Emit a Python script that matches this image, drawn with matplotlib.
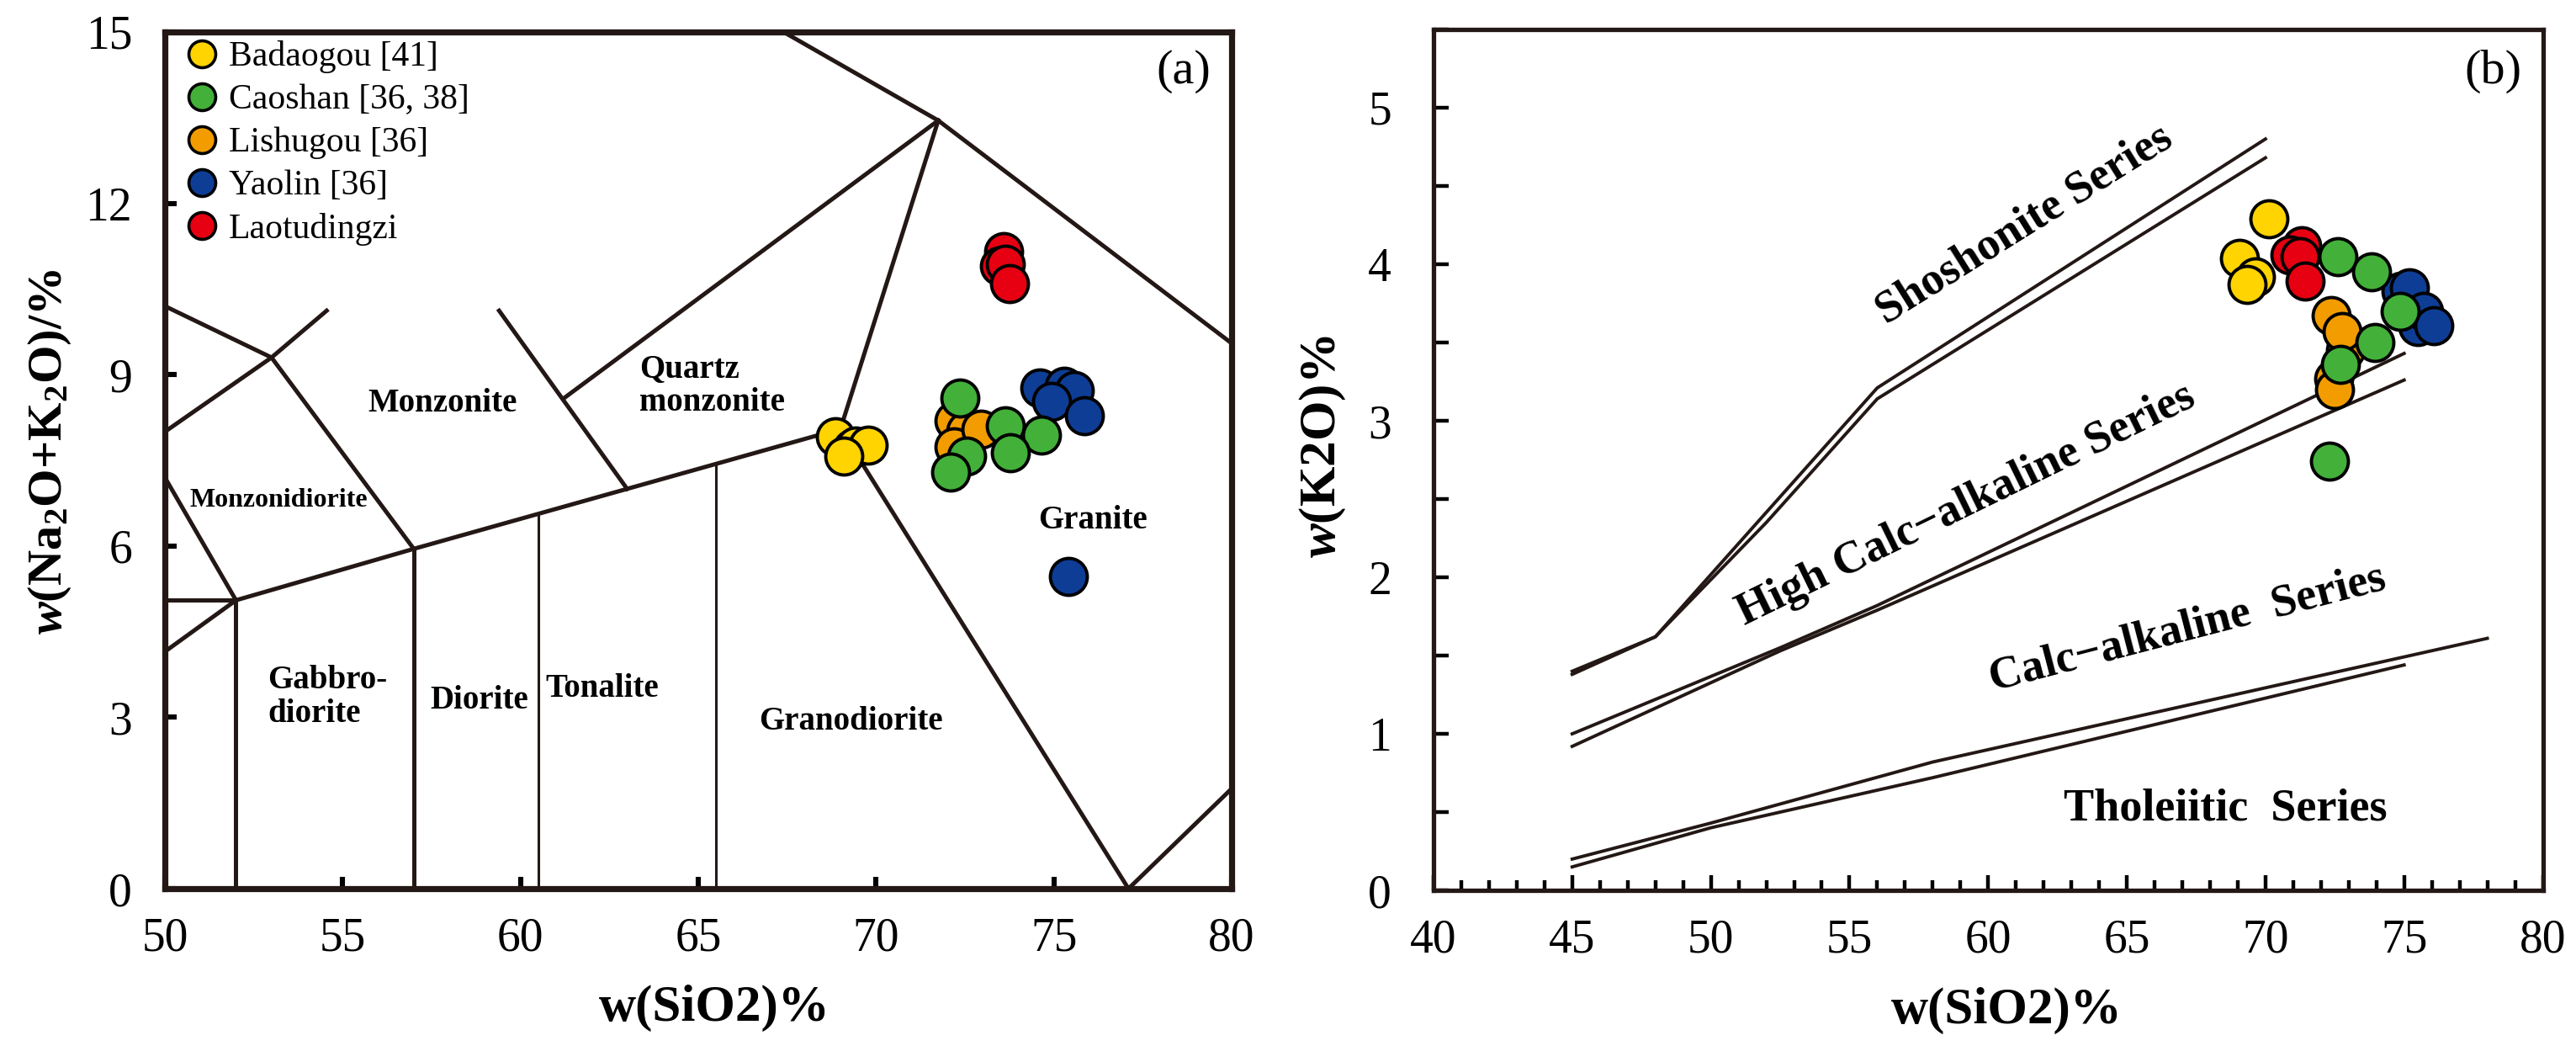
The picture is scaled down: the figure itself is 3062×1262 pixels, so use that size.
import matplotlib.pyplot as plt
from matplotlib.lines import Line2D
from matplotlib.ticker import MultipleLocator

plt.rcParams['font.family'] = ['Liberation Serif', 'DejaVu Serif']
plt.rcParams['mathtext.fontset'] = 'custom'
plt.rcParams['mathtext.rm'] = 'Liberation Serif:bold'
plt.rcParams['mathtext.it'] = 'Liberation Serif:italic:bold'
plt.rcParams['mathtext.bf'] = 'Liberation Serif:bold'

# ---- sample groups ----
names = ['Badaogou [41]', 'Caoshan [36, 38]', 'Lishugou [36]', 'Yaolin [36]', 'Laotudingzi']
colors = ['#FFD400', '#43B03A', '#F29C00', '#0E3D96', '#E60012']
draw_order = [0, 4, 2, 3, 1]

# (a) TAS: SiO2 vs Na2O+K2O
tas_si = [
    [68.85, 69.33, 69.43, 69.77, 69.10],
    [72.37, 73.63, 74.66, 73.79, 72.55, 72.09],
    [72.20, 72.52, 72.20, 72.95],
    [74.61, 75.30, 75.58, 74.95, 75.87, 75.41],
    [73.58, 73.46, 73.63, 73.75],
]
tas_alk = [
    [7.91, 7.71, 7.75, 7.77, 7.57],
    [8.59, 8.11, 7.94, 7.63, 7.57, 7.29],
    [8.19, 8.02, 7.74, 8.05],
    [8.76, 8.80, 8.73, 8.53, 8.28, 5.47],
    [11.16, 10.91, 10.93, 10.60],
]

# (b) SiO2 vs K2O
k_si = [
    [70.14, 69.07, 69.65, 69.35],
    [72.60, 73.83, 74.86, 73.96, 72.70, 72.31],
    [72.38, 72.90, 72.75, 72.45, 72.50],
    [74.90, 75.19, 75.50, 75.70, 76.07],
    [71.30, 70.88, 71.25, 71.43],
]
k_k2o = [
    [4.29, 4.04, 3.92, 3.87],
    [4.05, 3.95, 3.70, 3.50, 3.36, 2.74],
    [3.67, 3.45, 3.57, 3.27, 3.20],
    [3.83, 3.85, 3.60, 3.70, 3.61],
    [4.12, 4.06, 4.05, 3.89],
]

# ---- classification boundaries (a) ----
tas_lines = [
    ([52.0, 57.0, 63.0, 69.0], [5.05, 5.95, 7.0, 8.05]),
    ([50.0, 52.0], [5.05, 5.05]),
    ([50.0, 52.0], [4.15, 5.05]),
    ([50.0, 52.0], [7.2, 5.05]),
    ([52.0, 52.0], [0.0, 5.05]),
    ([57.0, 57.0], [0.0, 5.95]),
    ([50.0, 53.0, 57.0], [10.2, 9.3, 5.95]),
    ([50.0, 53.0, 54.55], [8.0, 9.3, 10.12]),
    ([59.4, 63.0], [10.12, 7.0]),
    ([61.25, 71.75], [8.6, 13.45]),
    ([67.4, 71.75, 80.0], [15.0, 13.45, 9.55]),
    ([71.75, 69.0, 77.1, 80.0], [13.45, 8.05, 0.0, 1.75]),
]
tas_thin = [
    ([60.5, 60.5], [0.0, 6.55]),
    ([65.5, 65.5], [0.0, 7.4]),
]
tas_fields = [
    ('Monzonite', 57.8, 8.5, 'center', 14),
    ('Quartz\nmonzonite', 63.35, 8.8, 'left', 14),
    ('Monzonidiorite', 53.2, 6.8, 'center', 11.5),
    ('Gabbro-\ndiorite', 52.9, 3.35, 'left', 14),
    ('Diorite', 58.85, 3.3, 'center', 14),
    ('Tonalite', 60.7, 3.5, 'left', 14),
    ('Granodiorite', 69.3, 2.92, 'center', 14),
    ('Granite', 76.1, 6.45, 'center', 14),
]

# ---- series boundaries (b) ----
k_lines = [
    ([45, 48, 56, 70], [1.38, 1.62, 3.21, 4.80]),
    ([45, 48, 52, 56, 70], [1.40, 1.62, 2.35, 3.14, 4.68]),
    ([45, 52.5, 56, 75], [1.00, 1.55, 1.82, 3.43]),
    ([45, 52.5, 56, 75], [0.92, 1.53, 1.79, 3.26]),
    ([45, 50, 58, 78], [0.20, 0.43, 0.82, 1.61]),
    ([45, 50, 58, 75], [0.15, 0.40, 0.72, 1.44]),
]
k_fields = [
    ('Shoshonite Series', 61.3, 4.25, 32),
    ('High Calc\u2212alkaline Series', 59.2, 2.46, 26),
    ('Calc\u2212alkaline  Series', 67.2, 1.67, 14.5),
    ('Tholeiitic  Series', 68.55, 0.52, 0),
]

fig = plt.figure(figsize=(15.31, 6.31), dpi=200)
ax1 = fig.add_axes([0.0640, 0.1632, 0.4141, 0.8067])
ax2 = fig.add_axes([0.5565, 0.1616, 0.4306, 0.8107])

# panel (a)
for xs, ys in tas_lines:
    ax1.plot(xs, ys, color='#231815', lw=1.8, solid_joinstyle='miter', zorder=2)
for xs, ys in tas_thin:
    ax1.plot(xs, ys, color='#231815', lw=1.1, zorder=2)
for i in draw_order:
    ax1.scatter(tas_si[i], tas_alk[i], s=250, c=colors[i], edgecolors='black',
                linewidths=1.4, zorder=3)
for txt, x, y, ha, fs in tas_fields:
    ax1.text(x, y, txt, ha=ha, va='center', fontsize=fs, fontweight='bold',
             linespacing=1.1)
ax1.text(78.65, 14.3, '(a)', ha='center', va='center', fontsize=21)
ax1.set_xlim(50, 80)
ax1.set_ylim(0, 15)
ax1.set_xticks([50, 55, 60, 65, 70, 75, 80])
ax1.set_yticks([0, 3, 6, 9, 12, 15])
ax1.tick_params(direction='in', length=5, width=2.2, labelsize=20, pad=12)
ax1.tick_params(axis='y', pad=14)
for sp in ax1.spines.values():
    sp.set_linewidth(2.6)
    sp.set_color('#231815')
ax1.set_xlabel('w(SiO2)%', fontsize=22, fontweight='bold')
ax1.xaxis.set_label_coords(0.515, -0.112)
ax1.set_ylabel(r'$\it{w}$(Na$_2$O+K$_2$O)/%', fontsize=21, fontweight='bold')
ax1.yaxis.set_label_coords(-0.086, 0.51)

handles = [Line2D([], [], ls='none', marker='o', markersize=11.5, mfc=c,
                  mec='black', mew=1.3) for c in colors]
ax1.legend(handles, names, loc='upper left', bbox_to_anchor=(0.012, 0.998),
           frameon=False, fontsize=15, handletextpad=0.25, labelspacing=0.3,
           borderaxespad=0, handlelength=1.0, borderpad=0.2)

# panel (b)
for xs, ys in k_lines:
    ax2.plot(xs, ys, color='#231815', lw=1.4, zorder=2)
for i in draw_order:
    ax2.scatter(k_si[i], k_k2o[i], s=250, c=colors[i], edgecolors='black',
                linewidths=1.4, zorder=3)
for txt, x, y, rot in k_fields:
    ax2.text(x, y, txt, ha='center', va='center', fontsize=19.5, fontweight='bold',
             rotation=rot, rotation_mode='anchor')
ax2.text(78.2, 5.23, '(b)', ha='center', va='center', fontsize=21)
ax2.set_xlim(40, 80)
ax2.set_ylim(0, 5.5)
ax2.xaxis.set_major_locator(MultipleLocator(5))
ax2.xaxis.set_minor_locator(MultipleLocator(1))
ax2.yaxis.set_major_locator(MultipleLocator(1))
ax2.yaxis.set_minor_locator(MultipleLocator(0.5))
ax2.tick_params(which='major', direction='in', length=6.5, width=1.6, labelsize=20, pad=12)
ax2.tick_params(which='minor', direction='in', length=4.5, width=1.6)
ax2.tick_params(axis='y', which='major', pad=18)
ax2.tick_params(axis='y', which='minor', length=6.5)
for sp in ax2.spines.values():
    sp.set_linewidth(1.9)
    sp.set_color('#231815')
ax2.set_xlabel('w(SiO2)%', fontsize=22, fontweight='bold')
ax2.xaxis.set_label_coords(0.517, -0.112)
ax2.set_ylabel(r'$\it{w}$(K2O)%', fontsize=22, fontweight='bold')
ax2.yaxis.set_label_coords(-0.077, 0.515)

fig.savefig('out.png', dpi=200, facecolor='white')
